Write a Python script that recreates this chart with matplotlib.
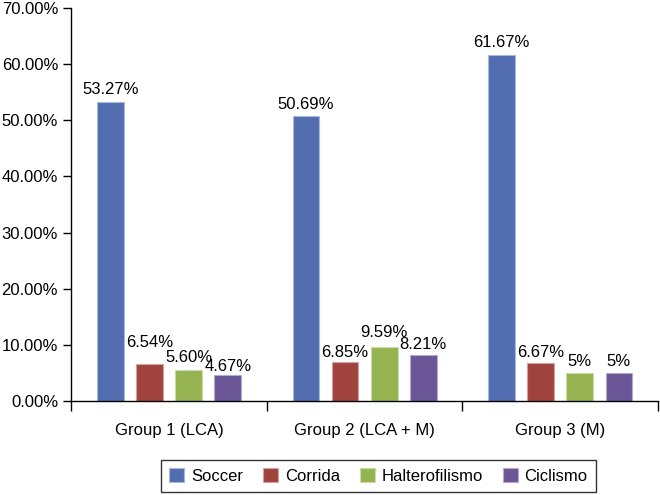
import numpy as np
import matplotlib
matplotlib.use("Agg")
import matplotlib.pyplot as plt

plt.rcParams['font.family'] = ['Liberation Sans', 'DejaVu Sans']

groups = ["Group 1 (LCA)", "Group 2 (LCA + M)", "Group 3 (M)"]
sports = ["Soccer", "Corrida", "Halterofilismo", "Ciclismo"]
soccer = [53.27, 50.69, 61.67]
corrida = [6.54, 6.85, 6.67]
halterofilismo = [5.60, 9.59, 5.0]
ciclismo = [4.67, 8.21, 5.0]
labels = [["53.27%", "50.69%", "61.67%"],
          ["6.54%", "6.85%", "6.67%"],
          ["5.60%", "9.59%", "5%"],
          ["4.67%", "8.21%", "5%"]]

colors = ["#526eb0", "#a0433f", "#95b451", "#6a5597"]
edges = ["#aab8db", "#d4a3a1", "#cadba8", "#b5aacb"]

# label offsets above bars (points), as in the original layout
offsets = [[3.3, 3, 3.5],
           [10.5, 1.5, 2.3],
           [3.3, 5, 2.8],
           [0.5, 2, 2.8]]

fig = plt.figure(figsize=(6.6, 4.95), dpi=100)
ax = fig.add_axes([0.108, 0.19, 0.889, 0.794])

x = np.arange(len(groups))
w = 0.137
step = 0.2
series = [soccer, corrida, halterofilismo, ciclismo]
for i, vals in enumerate(series):
    pos = x + (i - 1.5) * step
    bars = ax.bar(pos, vals, w, color=colors[i], edgecolor=edges[i],
                  linewidth=0.8, label=sports[i])
    for j, (b, lab) in enumerate(zip(bars, labels[i])):
        ax.annotate(lab, (b.get_x() + b.get_width() / 2, b.get_height()),
                    xytext=(0, offsets[i][j]), textcoords="offset points",
                    ha="center", va="bottom", fontsize=12)

ax.set_ylim(0, 70)
ax.set_xlim(-0.5, 2.5)
ax.set_yticks(np.arange(0, 71, 10))
ax.set_yticklabels(["%.2f%%" % v for v in np.arange(0, 71, 10)], fontsize=12)
ax.set_xticks([-0.5, 0.5, 1.5, 2.5])
ax.set_xticklabels([])
ax.set_xticks(x, minor=True)
ax.set_xticklabels(groups, minor=True, fontsize=12)
ax.tick_params(axis="x", which="minor", length=0, pad=16)
ax.tick_params(axis="x", which="major", length=7, width=1, direction="out")
ax.tick_params(axis="y", length=6, width=1, direction="out")
for s in ["top", "right"]:
    ax.spines[s].set_visible(False)
for s in ["left", "bottom"]:
    ax.spines[s].set_linewidth(1)

leg = fig.legend(loc="center", bbox_to_anchor=(0.5735, 0.038), ncol=4,
                 fontsize=12, frameon=True, fancybox=False, edgecolor="black",
                 handlelength=0.9, handleheight=0.9, handletextpad=0.4,
                 columnspacing=1.2, borderpad=0.5)
leg.get_frame().set_linewidth(1)

fig.savefig("out.png", dpi=100)
